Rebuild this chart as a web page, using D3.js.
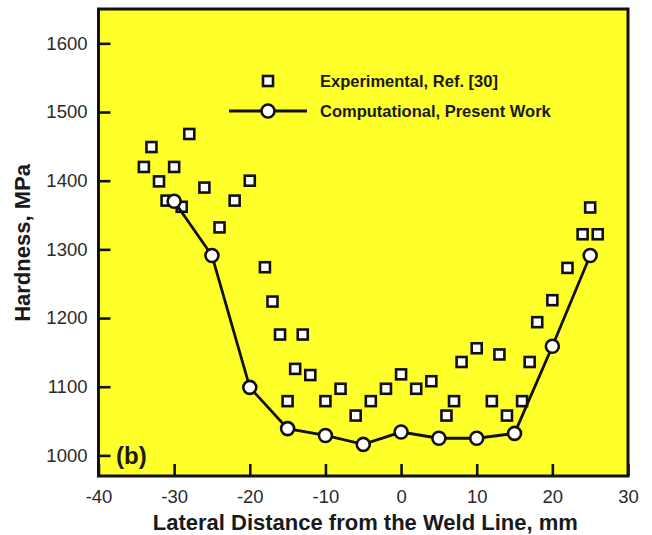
<!DOCTYPE html>
<html>
<head>
<meta charset="utf-8">
<script src="https://cdn.jsdelivr.net/npm/d3@7"></script>
<style>
  html, body { margin: 0; padding: 0; background: #fff; }
  svg { display: block; }
  text { font-family: "Liberation Sans", Arial, sans-serif; }
</style>
</head>
<body>
<svg id="chart" width="652" height="535"></svg>
<script>
// Experimental hardness, Ref. [30]
const expX = [-34, -33, -32, -31, -30, -29, -28, -26, -24, -22, -20, -18, -17, -16, -15, -14, -13, -12,
              -10, -8, -6, -4, -2, 0, 2, 4, 6, 7, 8, 10, 12, 13, 14, 16, 17, 18, 20, 22, 24, 25, 26];
const expY = [1420, 1449, 1399, 1371, 1420, 1362, 1468, 1390, 1332, 1371, 1400, 1274, 1224, 1176, 1079, 1126, 1176, 1117,
              1079, 1097, 1058, 1079, 1097, 1118, 1097, 1108, 1058, 1079, 1136, 1156, 1079, 1147, 1058, 1079, 1136, 1194,
              1226, 1273, 1322, 1361, 1322];

// Computational hardness, present work
const compX = [-30, -25, -20, -15, -10, -5, 0, 5, 10, 15, 20, 25];
const compY = [1370, 1291, 1099, 1039, 1029, 1016, 1034, 1025, 1025, 1032, 1159, 1291];

const xTicks = [-40, -30, -20, -10, 0, 10, 20, 30];
const yTicks = [1000, 1100, 1200, 1300, 1400, 1500, 1600];

const seriesNames = ["Experimental, Ref. [30]", "Computational, Present Work"];
const xTitle = "Lateral Distance from the Weld Line, mm";
const yTitle = "Hardness, MPa";
const panelTag = "(b)";

const svg = d3.select("#chart");
const plotL = 98.5, plotR = 628, plotT = 9, plotB = 476;

const x = d3.scaleLinear().domain([-40, 30]).range([plotL, plotR]);
const y = d3.scaleLinear().domain([970, 1650]).range([plotB, plotT]);

// plain hyphen-minus tick labels
const plainFmt = d => String(d);

// plot background
svg.append("rect")
  .attr("x", plotL).attr("y", plotT)
  .attr("width", plotR - plotL).attr("height", plotB - plotT)
  .attr("fill", "#ffff2a");

// axes with inward ticks
const xAxis = svg.append("g")
  .attr("transform", `translate(0,${plotB})`)
  .call(d3.axisBottom(x).tickValues(xTicks).tickSize(-12).tickPadding(10).tickFormat(plainFmt));
const yAxis = svg.append("g")
  .attr("transform", `translate(${plotL},0)`)
  .call(d3.axisLeft(y).tickValues(yTicks).tickSize(-12).tickPadding(10).tickFormat(plainFmt));

[xAxis, yAxis].forEach(g => {
  g.select(".domain").remove();
  g.selectAll(".tick line").attr("stroke", "#111").attr("stroke-width", 2.6);
  g.selectAll(".tick text")
    .attr("fill", "#2a2a2a")
    .style("font-size", "18.5px");
});
xAxis.selectAll(".tick text").attr("dy", "0.9em");
yAxis.selectAll(".tick text").attr("dx", "-1");

// frame
svg.append("rect")
  .attr("x", plotL).attr("y", plotT)
  .attr("width", plotR - plotL).attr("height", plotB - plotT)
  .attr("fill", "none")
  .attr("stroke", "#111")
  .attr("stroke-width", 3);

const line = d3.line().x(d => x(d[0])).y(d => y(d[1]));
const compData = compX.map((v, i) => [v, compY[i]]);
const expData = expX.map((v, i) => [v, expY[i]]);

// experimental squares
const sq = 10;
svg.append("g").selectAll("rect")
  .data(expData)
  .join("rect")
  .attr("x", d => x(d[0]) - sq / 2)
  .attr("y", d => y(d[1]) - sq / 2)
  .attr("width", sq).attr("height", sq)
  .attr("fill", "#fff")
  .attr("stroke", "#111")
  .attr("stroke-width", 2.6);

// computational line and markers
svg.append("path")
  .datum(compData)
  .attr("d", line)
  .attr("fill", "none")
  .attr("stroke", "#111")
  .attr("stroke-width", 2.8);

svg.append("g").selectAll("circle")
  .data(compData)
  .join("circle")
  .attr("cx", d => x(d[0]))
  .attr("cy", d => y(d[1]))
  .attr("r", 6.5)
  .attr("fill", "#fff")
  .attr("stroke", "#111")
  .attr("stroke-width", 2.6);

// legend
const lg = svg.append("g");
lg.append("rect")
  .attr("x", 268 - sq / 2).attr("y", 81 - sq / 2)
  .attr("width", sq).attr("height", sq)
  .attr("fill", "#fff").attr("stroke", "#111").attr("stroke-width", 2.6);
lg.append("line")
  .attr("x1", 229).attr("x2", 307).attr("y1", 111).attr("y2", 111)
  .attr("stroke", "#111").attr("stroke-width", 2.8);
lg.append("circle")
  .attr("cx", 268).attr("cy", 111).attr("r", 6.5)
  .attr("fill", "#fff").attr("stroke", "#111").attr("stroke-width", 2.6);
lg.selectAll("text")
  .data(seriesNames)
  .join("text")
  .attr("x", 320)
  .attr("y", (d, i) => 87 + i * 30)
  .attr("fill", "#1a1a1a")
  .style("font-size", "16.5px")
  .style("font-weight", "bold")
  .text(d => d);

// panel tag
svg.append("text")
  .attr("x", 116).attr("y", 464)
  .attr("fill", "#1a1a1a")
  .style("font-size", "24px")
  .style("font-weight", "bold")
  .text(panelTag);

// axis titles
svg.append("text")
  .attr("x", (plotL + plotR) / 2 + 2).attr("y", 530)
  .attr("text-anchor", "middle")
  .attr("fill", "#1a1a1a")
  .style("font-size", "22px")
  .style("font-weight", "bold")
  .text(xTitle);

svg.append("text")
  .attr("transform", `translate(30,243) rotate(-90)`)
  .attr("text-anchor", "middle")
  .attr("fill", "#1a1a1a")
  .style("font-size", "22px")
  .style("font-weight", "bold")
  .text(yTitle);
</script>
</body>
</html>
